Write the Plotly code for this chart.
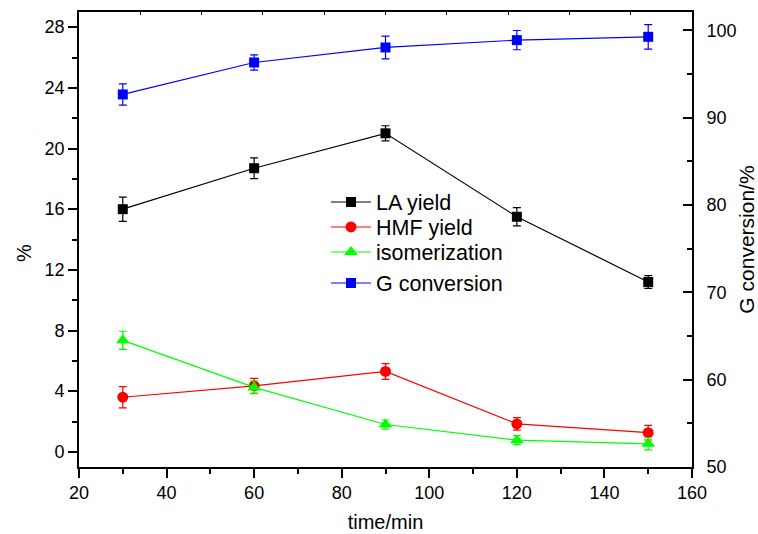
import plotly.graph_objects as go

# Reaction time (min)
time_min = [30, 60, 90, 120, 150]

# Yields on the left axis (%)
la_yield = [16.0, 18.7, 21.0, 15.5, 11.2]
la_err = [0.8, 0.68, 0.5, 0.6, 0.42]

hmf_yield = [3.6, 4.35, 5.3, 1.84, 1.26]
hmf_err = [0.7, 0.5, 0.52, 0.41, 0.48]

iso_yield = [7.35, 4.25, 1.8, 0.77, 0.53]
iso_err = [0.6, 0.42, 0.3, 0.3, 0.4]

# Glucose conversion on the right axis (%)
g_conv = [92.66, 96.32, 98.04, 98.88, 99.26]
g_err = [1.22, 0.88, 1.3, 1.1, 1.4]

FONT = "Liberation Sans, Arial, sans-serif"
L, R, T, B = 79, 692, 12, 467   # plot area edges in px
W, H = 758, 534

fig = go.Figure()


def add_series(y, err, name, color, symbol, size, yaxis="y", legend="legend"):
    fig.add_trace(go.Scatter(
        x=time_min, y=y, name=name, mode="lines+markers",
        line=dict(color=color, width=1.2),
        marker=dict(color=color, symbol=symbol, size=size, line=dict(width=0)),
        error_y=dict(type="data", array=err, visible=True, color=color,
                     thickness=1.2, width=4),
        yaxis=yaxis, legend=legend,
    ))


add_series(la_yield, la_err, "LA yield", "#000000", "square", 10,
           legend="legend")
add_series(hmf_yield, hmf_err, "HMF yield", "#ff0000", "circle", 11,
           legend="legend2")
add_series(iso_yield, iso_err, "isomerization", "#00ff00", "triangle-up", 12,
           legend="legend3")
add_series(g_conv, g_err, "G conversion", "#0000ff", "square", 10,
           yaxis="y2", legend="legend4")

# Invisible trace to carry the top axis
fig.add_trace(go.Scatter(x=[20, 160], y=[None, None], xaxis="x2",
                         showlegend=False, hoverinfo="skip"))

axis_common = dict(showgrid=False, zeroline=False, showline=True,
                   linecolor="black", linewidth=1.6, automargin=False,
                   tickfont=dict(family=FONT, size=18, color="black"))


def legend_at(center_y):
    return dict(x=(326 - L) / (R - L), y=(B - center_y) / (B - T),
                xanchor="left", yanchor="middle",
                bgcolor="rgba(0,0,0,0)", borderwidth=0,
                font=dict(family=FONT, size=21.5), itemwidth=40)


fig.update_layout(
    width=W, height=H,
    margin=dict(l=L, r=W - R, t=T, b=H - B),
    paper_bgcolor="white", plot_bgcolor="white",
    font=dict(family=FONT, color="black"),
    xaxis=dict(range=[20, 160], dtick=20, tick0=20, ticks="outside",
               ticklen=9, tickwidth=1.5, tickcolor="black",
               minor=dict(dtick=10, ticks="outside", ticklen=5,
                          tickwidth=1.5, tickcolor="black"),
               title=dict(text="time/min", font=dict(family=FONT, size=20),
                          standoff=13),
               **axis_common),
    xaxis2=dict(range=[20, 160], overlaying="x", side="top",
                tickvals=[20 + 14 * k for k in range(11)],
                showticklabels=False, ticks="inside", ticklen=3,
                tickwidth=1, tickcolor="black", **axis_common),
    yaxis=dict(range=[-1, 29], dtick=4, tick0=0, ticks="outside",
               ticklen=9, tickwidth=1.5, tickcolor="black",
               minor=dict(dtick=2, ticks="outside", ticklen=5,
                          tickwidth=1.5, tickcolor="black"),
               **axis_common),
    yaxis2=dict(range=[50, 102.1], dtick=10, tick0=50, overlaying="y",
                side="right", ticks="inside", ticklen=9, tickwidth=1.5,
                tickcolor="black", ticklabelstandoff=9,
                minor=dict(dtick=5, ticks="inside", ticklen=5,
                           tickwidth=1.5, tickcolor="black"),
                title=dict(text="G conversion/%",
                           font=dict(family=FONT, size=21), standoff=6),
                **axis_common),
    legend=legend_at(202),
    legend2=legend_at(227),
    legend3=legend_at(252),
    legend4=legend_at(283),
    showlegend=True,
    annotations=[dict(text="%", x=(11 - L) / (R - L), y=(B - 253) / (B - T),
                      xref="paper", yref="paper",
                      showarrow=False, textangle=-90,
                      font=dict(family=FONT, size=20, color="black"))],
)

fig.write_html("out.html")
